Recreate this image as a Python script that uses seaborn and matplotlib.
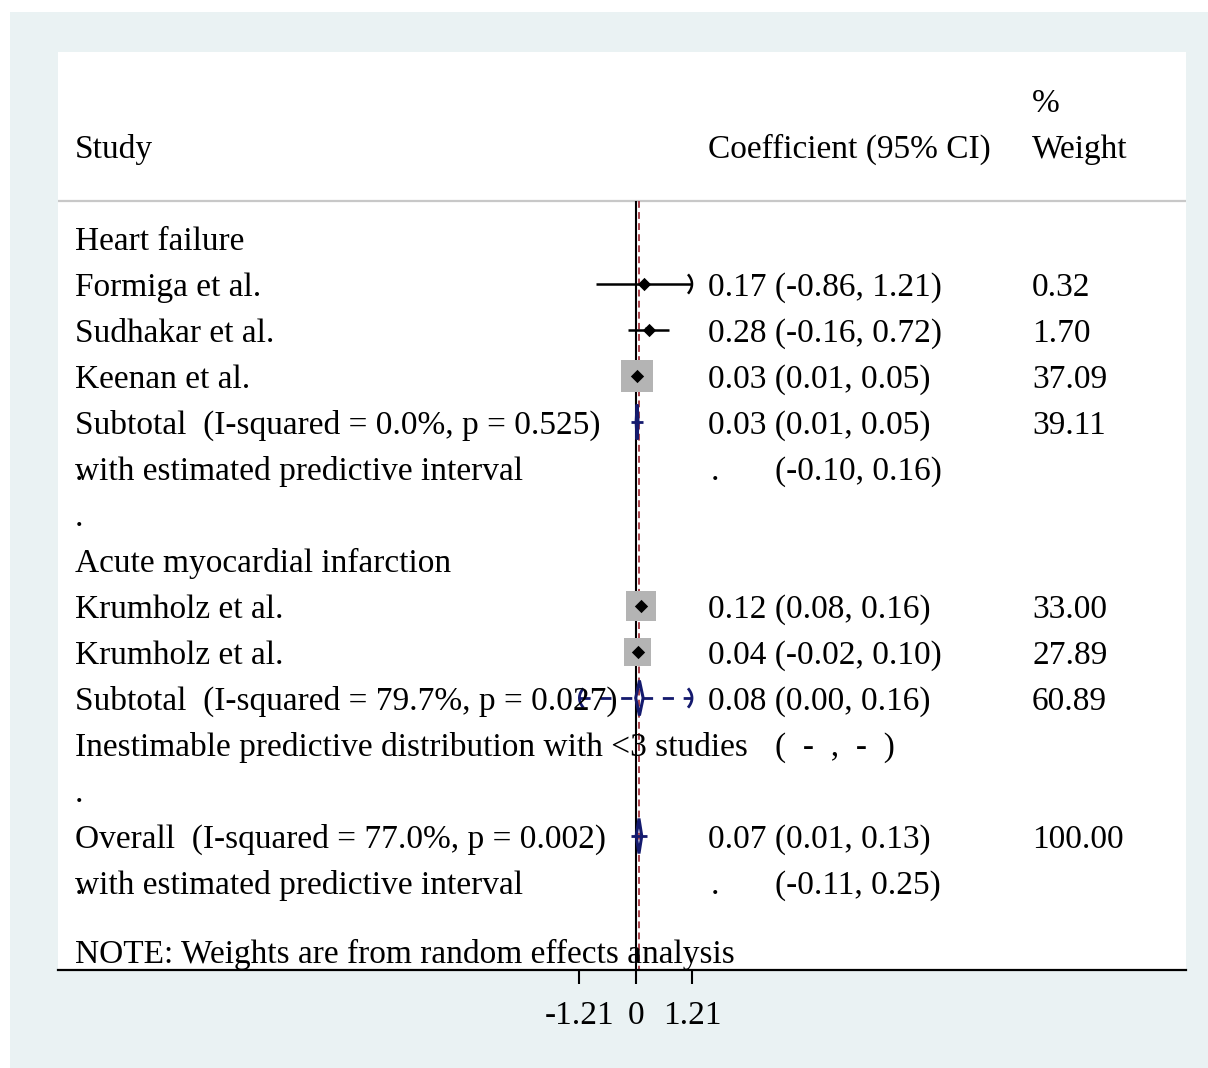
import numpy as np
import pandas as pd
import matplotlib
matplotlib.use("Agg")
import matplotlib.pyplot as plt
from matplotlib.patches import Rectangle
import seaborn as sns

# ---------------- data ----------------
study_names = ["Formiga et al.", "Sudhakar et al.", "Keenan et al.",
               "Krumholz et al.", "Krumholz et al."]
study_rows = [1, 2, 3, 8, 9]
study_est = [0.17, 0.28, 0.03, 0.12, 0.04]
study_lo = [-0.86, -0.16, 0.01, 0.08, -0.02]
study_hi = [1.21, 0.72, 0.05, 0.16, 0.10]
study_wt = [0.32, 1.70, 37.09, 33.00, 27.89]

pool_rows = [4, 10, 13]
pool_est = [0.03, 0.08, 0.07]
pool_lo = [0.01, 0.00, 0.01]
pool_hi = [0.05, 0.16, 0.13]
pool_wt = [39.11, 60.89, 100.00]
pred_rows = [4, 10, 13]
pred_lo = [-0.10, None, -0.11]
pred_hi = [0.16, None, 0.25]

overall_effect = 0.07
tick_values = [-1.21, 0, 1.21]
tick_labels = ["-1.21", "0", "1.21"]

left_labels = {
    0: "Heart failure",
    1: "Formiga et al.",
    2: "Sudhakar et al.",
    3: "Keenan et al.",
    4: "Subtotal  (I-squared = 0.0%, p = 0.525)",
    5: "with estimated predictive interval",
    6: ".",
    7: "Acute myocardial infarction",
    8: "Krumholz et al.",
    9: "Krumholz et al.",
    10: "Subtotal  (I-squared = 79.7%, p = 0.027)",
    11: "Inestimable predictive distribution with <3 studies",
    12: ".",
    13: "Overall  (I-squared = 77.0%, p = 0.002)",
    14: "with estimated predictive interval",
}
coef_labels = {
    1: "0.17 (-0.86, 1.21)",
    2: "0.28 (-0.16, 0.72)",
    3: "0.03 (0.01, 0.05)",
    4: "0.03 (0.01, 0.05)",
    8: "0.12 (0.08, 0.16)",
    9: "0.04 (-0.02, 0.10)",
    10: "0.08 (0.00, 0.16)",
    13: "0.07 (0.01, 0.13)",
}
pred_labels = {5: "(-0.10, 0.16)", 11: "(  -  ,  -  )", 14: "(-0.11, 0.25)"}
weight_labels = {1: "0.32", 2: "1.70", 3: "37.09", 4: "39.11",
                 8: "33.00", 9: "27.89", 10: "60.89", 13: "100.00"}
header_study = "Study"
header_coef = "Coefficient (95% CI)"
header_pct = "%"
header_weight = "Weight"
note_text = "NOTE: Weights are from random effects analysis"

# ---------------- layout ----------------
W, H = 1208, 1068
PX_PER_UNIT = 56.3 / 1.21      # horizontal scale
ROW_PX = 46.0                  # vertical spacing
ROW0_PX = 238.0                # pixel y of row 0
X0_PX = 635.7                  # pixel x of value 0
AX_L, AX_R, AX_T, AX_B = 58, 1186, 52, 970

def px2x(px):
    return (px - X0_PX) / PX_PER_UNIT

def py2row(py):
    return (py - ROW0_PX) / ROW_PX

sns.set_style("white")
plt.rcParams["font.family"] = ["Liberation Serif", "DejaVu Serif"]
FS = 24

fig = plt.figure(figsize=(W / 100, H / 100), dpi=100, facecolor="white")
fig.patches.append(Rectangle((10 / W, 0), 1 - 10 / W, 1 - 12 / H,
                             transform=fig.transFigure, facecolor="#EAF2F3",
                             edgecolor="none", zorder=-10))
ax = fig.add_axes([AX_L / W, 1 - AX_B / H, (AX_R - AX_L) / W, (AX_B - AX_T) / H])
ax.set_facecolor("white")
ax.set_xlim(px2x(AX_L), px2x(AX_R))
ax.set_ylim(py2row(AX_B), py2row(AX_T))

NAVY = "#141a6e"
RED = "#a8424c"
GRAY = "#b4b4b4"

# header separator
sep_row = py2row(201)
ax.axhline(sep_row, color="#c8c8c8", lw=1.6, zorder=1)

# vertical lines
ax.vlines(0, sep_row, py2row(AX_B), color="black", lw=1.5, zorder=2)
ax.vlines(overall_effect, sep_row, py2row(AX_B), color=RED, lw=1.4,
          linestyles=(0, (3.5, 2.2)), zorder=2)

# weight boxes (area proportional to weight) via seaborn
df = pd.DataFrame({"est": study_est, "row": study_rows, "wt": study_wt,
                   "lo": study_lo, "hi": study_hi})
k_pt = 5.25 * 0.72
sns.scatterplot(data=df, x="est", y="row", size="wt",
                sizes=(0, k_pt ** 2 * max(study_wt)), size_norm=(0, max(study_wt)),
                marker="s", color=GRAY, linewidth=0, legend=False, ax=ax, zorder=3)

clip = max(tick_values)
arc_t = np.linspace(-1, 1, 25)
arc_w = 4 / PX_PER_UNIT
arc_h = 0.21

def arrow_end(xe, row, direction, color, lw):
    # parenthesis-like arrow cap as drawn by Stata
    ax.plot(xe - direction * arc_w * arc_t ** 2, row + arc_h * arc_t,
            color=color, lw=lw, zorder=5, solid_capstyle="butt")

# CI lines
for r, l, h in zip(study_rows, study_lo, study_hi):
    ax.hlines(r, max(l, -clip), min(h, clip), color="black", lw=1.8, zorder=4)
    if h >= clip:
        arrow_end(clip, r, 1, "black", 1.8)
    if l <= -clip:
        arrow_end(-clip, r, -1, "black", 1.8)

# point estimates
sns.scatterplot(data=df, x="est", y="row", marker="D", color="black", s=46,
                linewidth=0, legend=False, ax=ax, zorder=6)

# pooled diamonds + predictive intervals
dh = 0.38
for r, e, l, h, pl, ph in zip(pool_rows, pool_est, pool_lo, pool_hi, pred_lo, pred_hi):
    if pl is not None:
        ax.hlines(r, pl, ph, color=NAVY, lw=2.0, zorder=4)
    else:
        ax.hlines(r, -clip, clip, color=NAVY, lw=2.0, linestyles=(0, (4, 3.5)), zorder=4)
        arrow_end(clip, r, 1, NAVY, 2.0)
        arrow_end(-clip, r, -1, NAVY, 2.0)
    ax.fill([l, e, h, e, l], [r, r - dh, r, r + dh, r], facecolor="none",
            edgecolor=NAVY, lw=2.2, zorder=5)

# texts
BOFF = 12 / ROW_PX
xs = px2x(75)
xc = px2x(708)
xw = px2x(1032)
xdot = px2x(711)
xp = px2x(775)
tkw = dict(fontsize=FS, va="baseline", ha="left", color="black", zorder=7)
for r, t in left_labels.items():
    ax.text(xs, r + BOFF, t, **tkw)
for r in pred_labels:
    if r in (5, 14):
        ax.text(xs, r + BOFF, ".", **tkw)
        ax.text(xdot, r + BOFF, ".", **tkw)
    ax.text(xp, r + BOFF, pred_labels[r], **tkw)
for r, t in coef_labels.items():
    ax.text(xc, r + BOFF, t, **tkw)
for r, t in weight_labels.items():
    ax.text(xw, r + BOFF, t, **tkw)
ax.text(xs, -2 + BOFF, header_study, **tkw)
ax.text(xc, -2 + BOFF, header_coef, **tkw)
ax.text(xw, -2 + BOFF, header_weight, **tkw)
ax.text(xw, -3 + BOFF, header_pct, **tkw)
ax.text(xs, py2row(951) + BOFF, note_text, **tkw)

# axes styling
for s in ["top", "left", "right"]:
    ax.spines[s].set_visible(False)
ax.spines["bottom"].set_color("black")
ax.spines["bottom"].set_linewidth(1.6)
ax.set_xticks(tick_values)
ax.set_xticklabels(tick_labels, fontsize=FS)
ax.tick_params(axis="x", length=10, width=1.5, pad=12, colors="black", bottom=True)
ax.set_yticks([])
ax.set_xlabel("")
ax.set_ylabel("")

fig.savefig("out.png", dpi=100, facecolor="white")
